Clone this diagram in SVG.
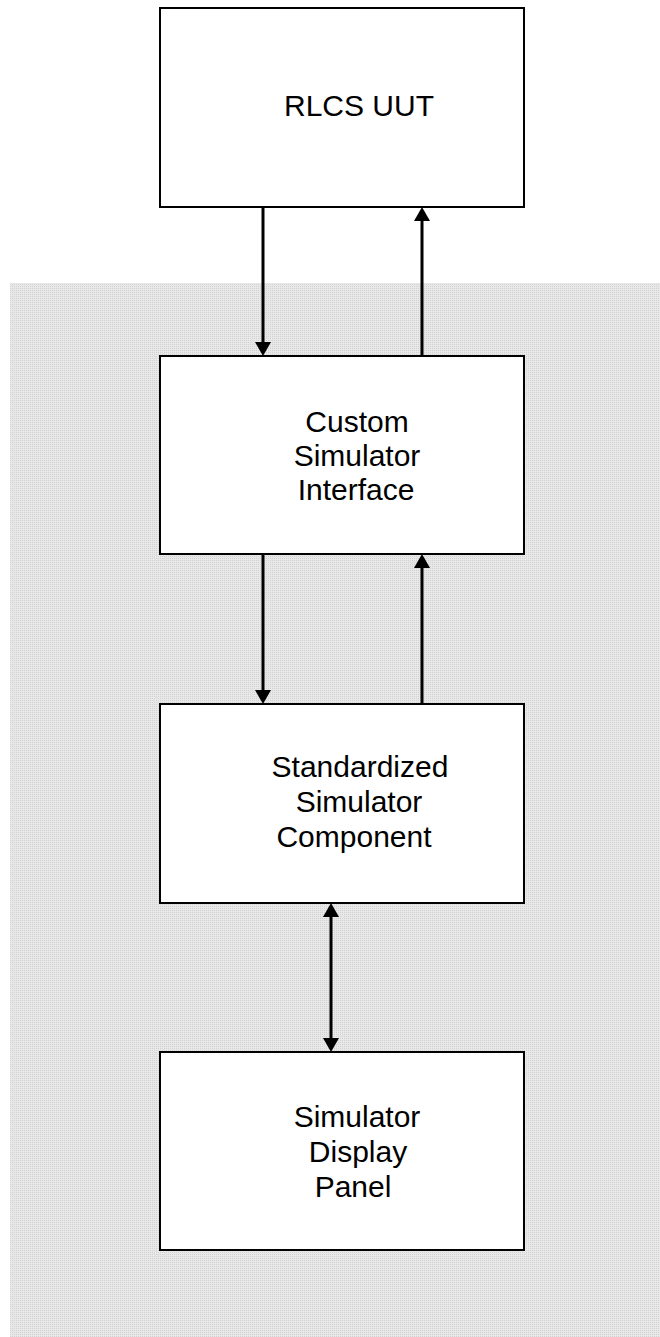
<svg xmlns="http://www.w3.org/2000/svg" width="660" height="1337" viewBox="0 0 660 1337">
  <style>
    .box { fill: #ffffff; stroke: #000000; stroke-width: 2; }
    .lbl { font-family: "Liberation Sans", Arial, sans-serif; font-size: 30px; fill: #000000; text-anchor: middle; }
    .conn { stroke: #000000; stroke-width: 3; fill: none; }
  </style>
  <defs>
    <pattern id="dots" x="0" y="0" width="2" height="2" patternUnits="userSpaceOnUse">
      <rect width="2" height="2" fill="#e8e8e8"/>
      <rect width="1" height="1" fill="#d2d2d2"/>
    </pattern>
    <marker id="arrow" viewBox="0 0 14 16" refX="8" refY="8" markerWidth="14" markerHeight="16" markerUnits="userSpaceOnUse" orient="auto-start-reverse">
      <path d="M0,0 L14,8 L0,16 z" fill="#000000"/>
    </marker>
  </defs>

  <rect id="background-region" x="10" y="283" width="650" height="1054" fill="url(#dots)"/>

  <g id="connectors">
    <line class="conn" x1="263" y1="207" x2="263" y2="350" marker-end="url(#arrow)"/>
    <line class="conn" x1="422" y1="356" x2="422" y2="213" marker-end="url(#arrow)"/>
    <line class="conn" x1="263" y1="554" x2="263" y2="698" marker-end="url(#arrow)"/>
    <line class="conn" x1="422" y1="704" x2="422" y2="560" marker-end="url(#arrow)"/>
    <line class="conn" x1="331" y1="909" x2="331" y2="1046" marker-start="url(#arrow)" marker-end="url(#arrow)"/>
  </g>

  <g id="rlcs-uut">
    <rect class="box" x="160" y="8" width="364" height="199"/>
    <text class="lbl" x="359" y="116">RLCS UUT</text>
  </g>

  <g id="custom-simulator-interface">
    <rect class="box" x="160" y="356" width="364" height="198"/>
    <text class="lbl" x="357" y="432">Custom</text>
    <text class="lbl" x="357" y="466">Simulator</text>
    <text class="lbl" x="356" y="500">Interface</text>
  </g>

  <g id="standardized-simulator-component">
    <rect class="box" x="160" y="704" width="364" height="199"/>
    <text class="lbl" x="360" y="777">Standardized</text>
    <text class="lbl" x="359" y="812">Simulator</text>
    <text class="lbl" x="354" y="847">Component</text>
  </g>

  <g id="simulator-display-panel">
    <rect class="box" x="160" y="1052" width="364" height="198"/>
    <text class="lbl" x="357" y="1127">Simulator</text>
    <text class="lbl" x="358" y="1162">Display</text>
    <text class="lbl" x="353" y="1197">Panel</text>
  </g>
</svg>
